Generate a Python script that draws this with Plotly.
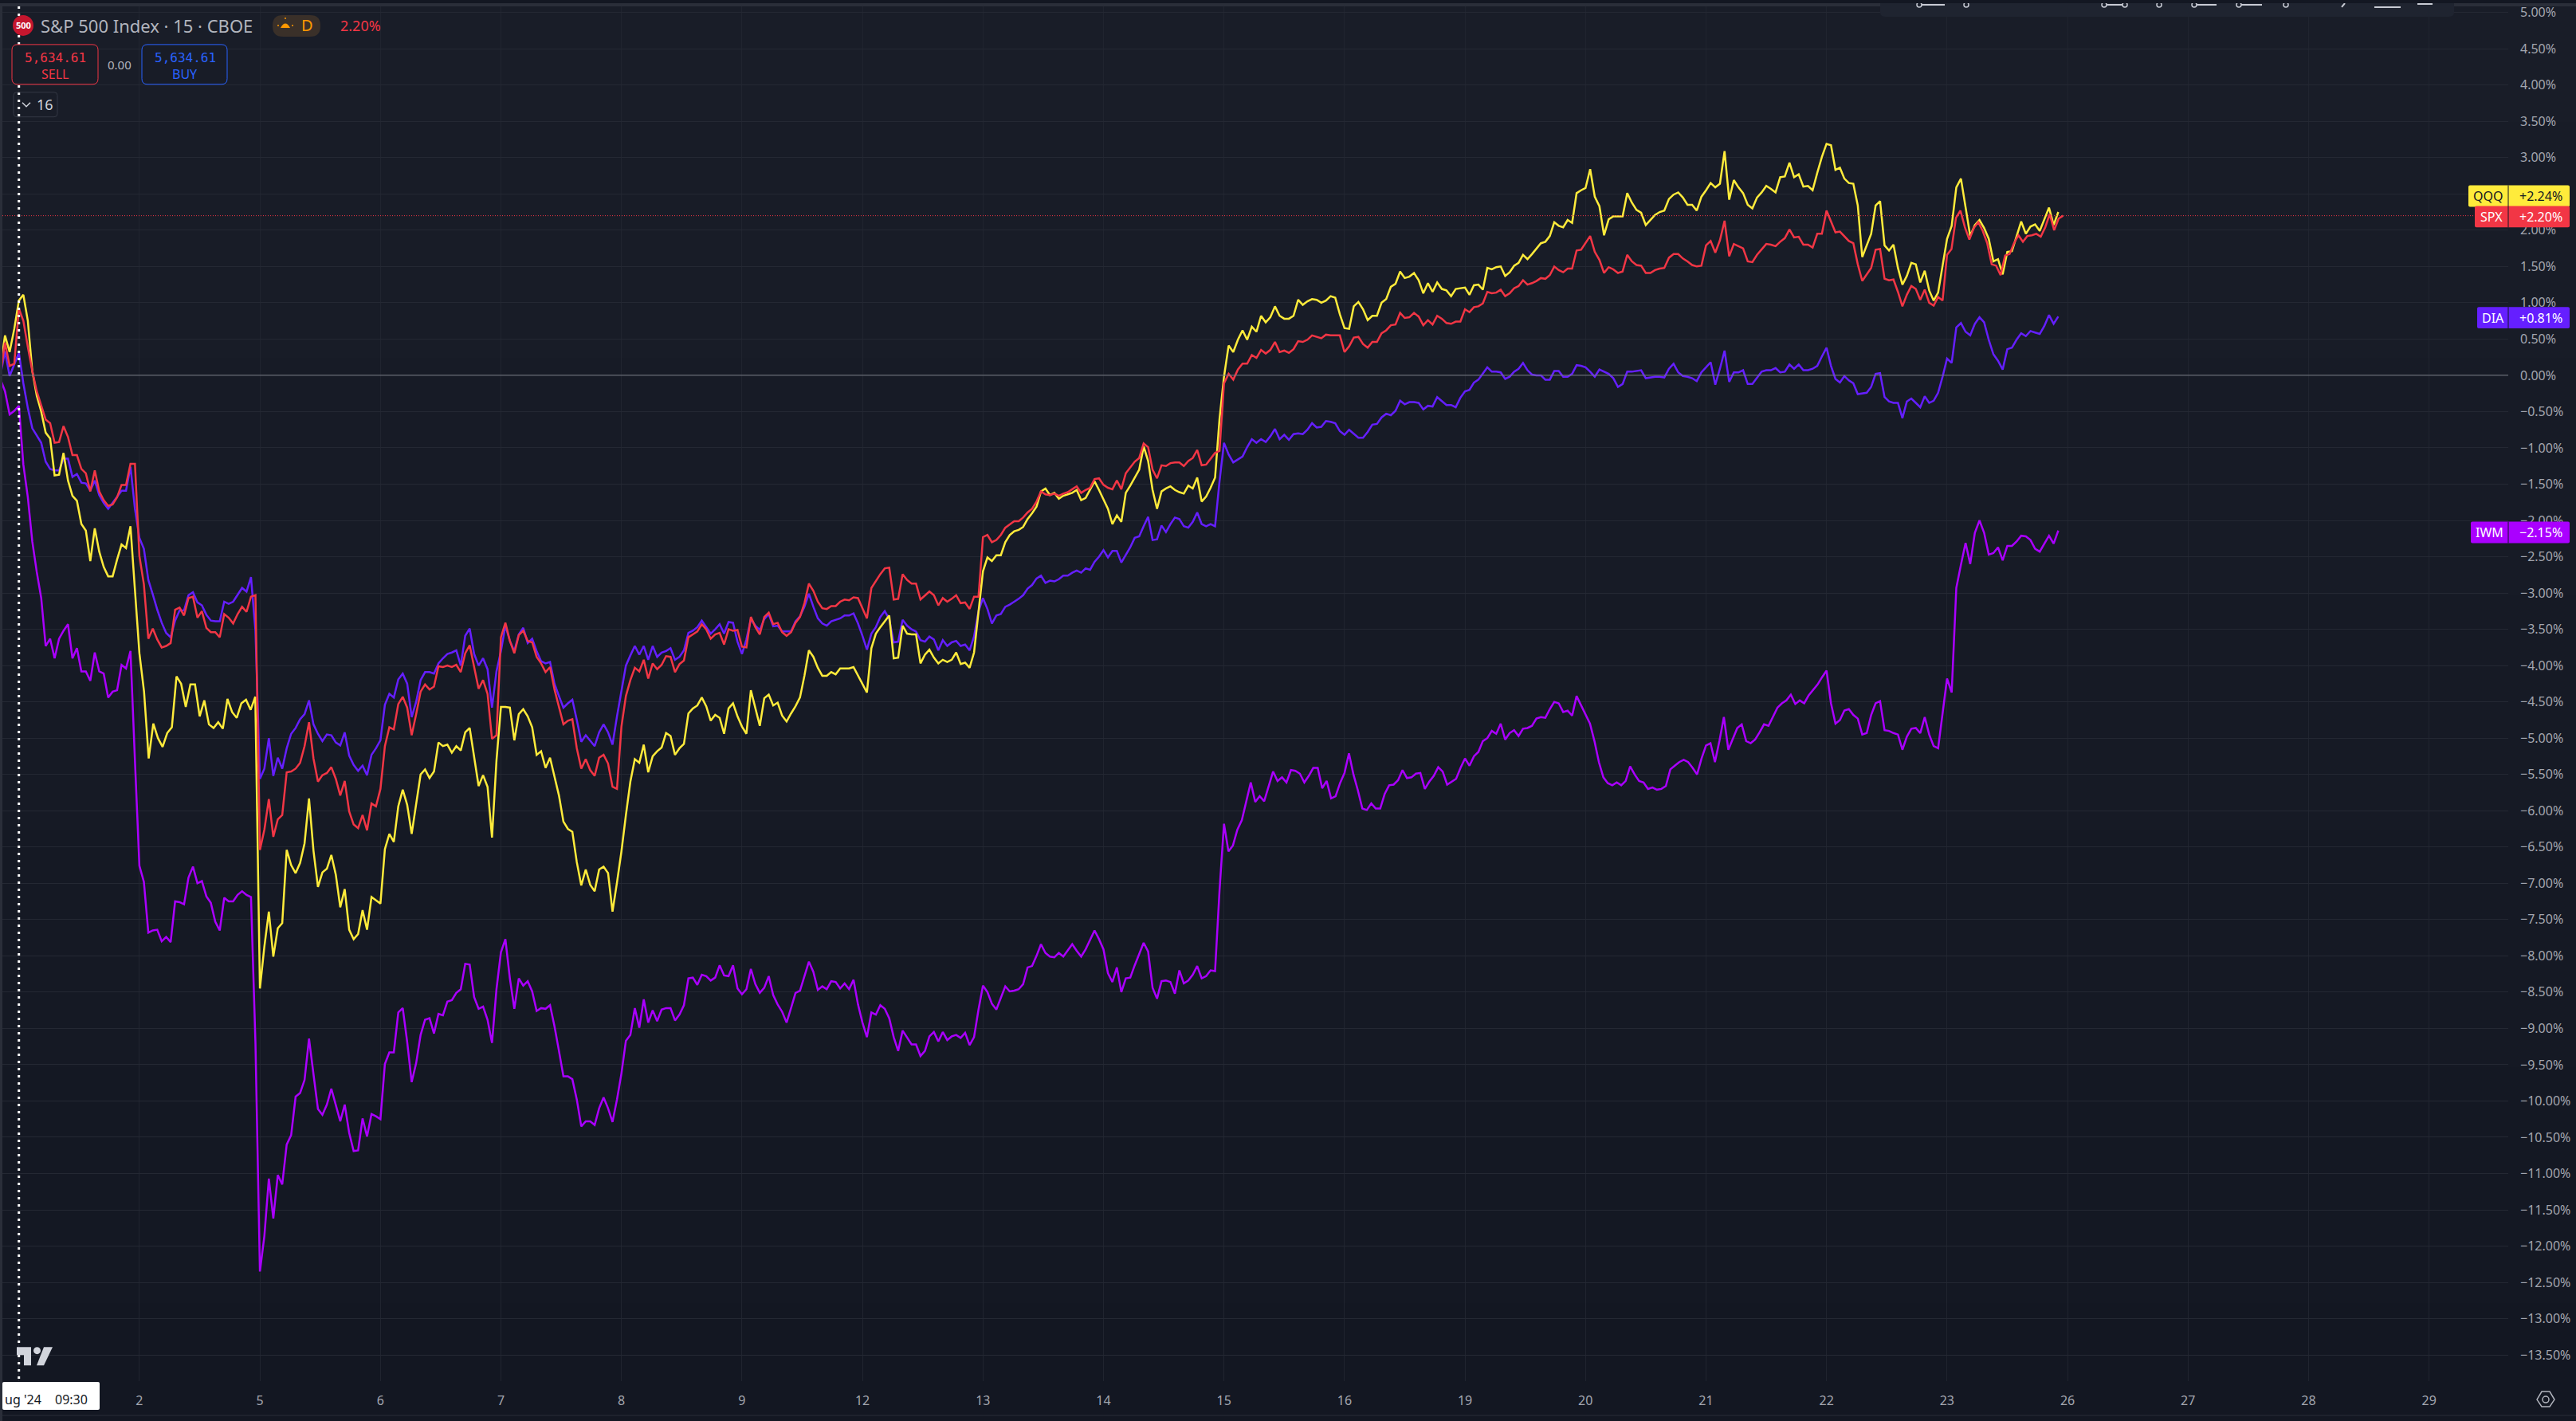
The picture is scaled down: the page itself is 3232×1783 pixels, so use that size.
import plotly.graph_objects as go

FONT = "Noto Sans"
BG_TOP = "#191D28"
BG_BOTTOM = "#131722"
GRID_H = "#242833"
GRID_V = "#20242F"
TEXT = "#A3A6AF"

RED = "#F23645"
YELLOW = "#FFEB3B"
BLUE = "#651FFF"
VIOLET = "#AA00FF"

DAY_LABELS = ["", "2", "5", "6", "7", "8", "9", "12", "13", "14", "15", "16", "19", "20", "21", "22", "23", "26", "27", "28", "29"]
PCT_TICKS = [5 - i * 0.5 for i in range(38)]

# percent change per 15 minute bar, one inner list per session
SPX_PRE = [0.0, 0.45, 0.13, 0.16]
SPX_DAYS = [
    [0.92, 0.75, 0.39, 0.06, -0.22, -0.42, -0.61, -0.66, -0.93, -0.92, -0.70, -0.85, -1.10, -1.10, -1.29, -1.35, -1.60, -1.31, -1.60, -1.72, -1.80, -1.78, -1.68, -1.51, -1.51, -1.22, -1.22],
    [-2.49, -2.88, -3.63, -3.49, -3.64, -3.75, -3.73, -3.69, -3.23, -3.20, -3.31, -3.07, -3.05, -3.34, -3.25, -3.48, -3.54, -3.54, -3.61, -3.29, -3.34, -3.42, -3.29, -3.19, -3.26, -3.05, -3.03],
    [-6.54, -6.26, -5.84, -6.36, -6.12, -6.06, -5.47, -5.46, -5.42, -5.34, -5.11, -4.78, -5.28, -5.60, -5.51, -5.48, -5.40, -5.56, -5.79, -5.59, -6.01, -6.19, -6.24, -6.06, -6.27, -5.90, -5.94],
    [-5.70, -5.11, -4.85, -4.88, -4.53, -4.43, -4.58, -4.96, -4.67, -4.36, -4.26, -4.33, -4.29, -4.01, -4.02, -4.00, -4.02, -3.99, -4.09, -3.83, -3.72, -4.02, -4.32, -4.20, -4.39, -5.01, -4.96],
    [-3.61, -3.41, -3.66, -3.83, -3.58, -3.52, -3.66, -3.68, -3.88, -3.97, -4.09, -4.02, -4.33, -4.58, -4.81, -4.76, -4.74, -5.14, -5.42, -5.29, -5.44, -5.52, -5.27, -5.23, -5.35, -5.67, -5.70],
    [-4.84, -4.42, -4.20, -4.03, -4.08, -3.92, -4.18, -3.97, -4.05, -3.99, -3.87, -3.88, -4.09, -3.98, -3.93, -3.61, -3.57, -3.53, -3.43, -3.50, -3.63, -3.57, -3.55, -3.71, -3.50, -3.52, -3.51],
    [-3.74, -3.75, -3.33, -3.47, -3.57, -3.33, -3.27, -3.43, -3.41, -3.54, -3.59, -3.54, -3.41, -3.33, -3.14, -2.87, -2.97, -3.12, -3.21, -3.22, -3.18, -3.18, -3.12, -3.09, -3.10, -3.06, -3.07],
    [-3.21, -3.35, -2.93, -2.83, -2.74, -2.66, -2.65, -3.09, -3.08, -2.74, -2.82, -2.87, -2.87, -3.09, -3.04, -2.98, -3.03, -3.17, -3.07, -3.12, -3.08, -3.03, -3.14, -3.13, -3.22, -3.05, -3.05],
    [-2.23, -2.20, -2.30, -2.27, -2.20, -2.10, -2.05, -2.01, -2.01, -1.96, -1.89, -1.84, -1.74, -1.60, -1.64, -1.65, -1.63, -1.66, -1.63, -1.61, -1.57, -1.53, -1.62, -1.58, -1.55, -1.43, -1.42],
    [-1.51, -1.55, -1.57, -1.45, -1.57, -1.35, -1.27, -1.19, -1.14, -0.94, -0.99, -1.30, -1.42, -1.24, -1.25, -1.21, -1.20, -1.20, -1.25, -1.18, -1.14, -1.03, -1.24, -1.23, -1.15, -1.07, -1.04],
    [-0.11, 0.02, -0.06, 0.08, 0.16, 0.16, 0.28, 0.24, 0.35, 0.30, 0.35, 0.46, 0.32, 0.34, 0.31, 0.36, 0.47, 0.46, 0.49, 0.55, 0.53, 0.51, 0.56, 0.55, 0.55, 0.55],
    [0.32, 0.40, 0.52, 0.53, 0.43, 0.38, 0.46, 0.46, 0.58, 0.62, 0.69, 0.70, 0.86, 0.79, 0.80, 0.86, 0.81, 0.69, 0.76, 0.70, 0.82, 0.78, 0.72, 0.71, 0.74, 0.74],
    [0.91, 0.87, 0.94, 0.95, 0.99, 1.15, 1.13, 1.14, 1.18, 1.09, 1.13, 1.20, 1.23, 1.31, 1.25, 1.27, 1.30, 1.34, 1.33, 1.38, 1.50, 1.45, 1.42, 1.47, 1.47, 1.72, 1.73],
    [1.82, 1.92, 1.70, 1.59, 1.41, 1.49, 1.46, 1.41, 1.43, 1.66, 1.57, 1.52, 1.51, 1.41, 1.41, 1.45, 1.47, 1.48, 1.62, 1.67, 1.67, 1.61, 1.57, 1.52, 1.50, 1.51],
    [1.79, 1.85, 1.69, 1.86, 2.13, 1.64, 1.81, 1.78, 1.75, 1.57, 1.56, 1.66, 1.74, 1.81, 1.80, 1.78, 1.84, 1.89, 2.01, 1.90, 1.91, 1.80, 1.80, 1.76, 1.95, 1.95],
    [2.27, 2.12, 1.97, 1.98, 1.92, 1.85, 1.82, 1.53, 1.30, 1.39, 1.48, 1.73, 1.74, 1.33, 1.31, 1.32, 1.15, 0.95, 1.11, 1.23, 1.19, 1.04, 1.18, 1.00, 0.96, 1.08, 1.03],
    [1.66, 1.74, 2.17, 2.27, 2.04, 1.87, 2.03, 2.11, 1.99, 1.82, 1.53, 1.51, 1.38, 1.65, 1.67, 1.82, 1.93, 1.84, 1.92, 1.93, 1.95, 1.91, 2.04, 2.22, 2.00, 2.16, 2.20],
]

QQQ_PRE = [0.10, 0.55, 0.32, 0.64]
QQQ_DAYS = [
    [1.03, 1.11, 0.75, 0.06, -0.28, -0.50, -0.79, -0.87, -1.38, -1.37, -1.07, -1.45, -1.66, -1.73, -2.05, -2.14, -2.56, -2.11, -2.43, -2.64, -2.77, -2.77, -2.54, -2.33, -2.38, -2.08, -2.96],
    [-3.83, -4.36, -5.28, -4.80, -5.00, -5.12, -4.93, -4.85, -4.15, -4.25, -4.57, -4.26, -4.26, -4.70, -4.48, -4.81, -4.86, -4.78, -4.87, -4.46, -4.64, -4.72, -4.52, -4.47, -4.61, -4.43],
    [-8.45, -7.87, -7.39, -8.01, -7.62, -7.55, -6.54, -6.75, -6.86, -6.72, -6.45, -5.83, -6.55, -7.05, -6.85, -6.80, -6.61, -6.88, -7.33, -7.08, -7.64, -7.77, -7.70, -7.37, -7.64, -7.19, -7.24],
    [-7.28, -6.53, -6.32, -6.43, -5.94, -5.71, -5.92, -6.32, -5.92, -5.50, -5.43, -5.55, -5.46, -5.06, -5.11, -5.09, -5.20, -5.11, -5.17, -4.92, -4.86, -5.28, -5.66, -5.51, -5.67, -6.37, -5.31],
    [-4.57, -4.57, -4.58, -5.03, -4.67, -4.60, -4.70, -4.85, -5.23, -5.18, -5.41, -5.27, -5.53, -5.79, -6.15, -6.25, -6.29, -6.71, -7.03, -6.81, -7.02, -7.11, -6.81, -6.77, -6.86, -7.39, -6.99],
    [-6.56, -6.06, -5.60, -5.29, -5.34, -5.09, -5.47, -5.25, -5.18, -5.13, -4.93, -4.97, -5.23, -5.14, -5.08, -4.66, -4.59, -4.55, -4.44, -4.56, -4.76, -4.68, -4.72, -4.94, -4.59, -4.52, -4.70],
    [-4.84, -4.94, -4.34, -4.59, -4.83, -4.45, -4.40, -4.55, -4.51, -4.69, -4.77, -4.66, -4.56, -4.44, -4.14, -3.79, -3.88, -4.03, -4.14, -4.14, -4.09, -4.12, -4.04, -4.04, -4.04, -4.02, -4.14],
    [-4.26, -4.37, -3.76, -3.56, -3.47, -3.39, -3.31, -3.90, -3.89, -3.45, -3.56, -3.57, -3.57, -3.97, -3.85, -3.78, -3.89, -3.97, -3.92, -3.95, -3.92, -3.82, -3.98, -3.96, -4.03, -3.82, -3.25],
    [-2.70, -2.51, -2.56, -2.48, -2.48, -2.30, -2.20, -2.15, -2.13, -2.09, -1.98, -1.90, -1.81, -1.60, -1.56, -1.65, -1.62, -1.70, -1.66, -1.64, -1.62, -1.58, -1.72, -1.69, -1.58, -1.46, -1.58],
    [-1.71, -1.84, -2.05, -1.93, -2.02, -1.62, -1.52, -1.41, -1.30, -0.98, -1.18, -1.58, -1.84, -1.60, -1.56, -1.53, -1.58, -1.61, -1.63, -1.52, -1.56, -1.41, -1.74, -1.67, -1.55, -1.41, -0.60],
    [-0.02, 0.41, 0.32, 0.49, 0.62, 0.49, 0.67, 0.60, 0.82, 0.73, 0.80, 0.95, 0.82, 0.78, 0.78, 0.82, 1.04, 0.97, 1.02, 1.05, 1.04, 1.00, 1.03, 1.09, 1.07, 0.84],
    [0.65, 0.64, 0.95, 1.01, 0.91, 0.76, 0.82, 0.82, 1.00, 1.05, 1.22, 1.26, 1.43, 1.34, 1.36, 1.41, 1.31, 1.13, 1.27, 1.15, 1.28, 1.19, 1.17, 1.09, 1.19, 1.20],
    [1.21, 1.11, 1.24, 1.25, 1.18, 1.48, 1.46, 1.49, 1.50, 1.37, 1.42, 1.51, 1.55, 1.66, 1.60, 1.67, 1.75, 1.82, 1.84, 1.92, 2.11, 2.06, 2.04, 2.14, 2.10, 2.51, 2.55],
    [2.58, 2.84, 2.46, 2.33, 1.93, 2.15, 2.19, 2.19, 2.19, 2.51, 2.38, 2.28, 2.24, 2.07, 2.14, 2.21, 2.25, 2.27, 2.43, 2.49, 2.52, 2.45, 2.35, 2.35, 2.27, 2.46],
    [2.55, 2.65, 2.59, 2.64, 3.09, 2.42, 2.69, 2.59, 2.51, 2.35, 2.30, 2.45, 2.52, 2.61, 2.57, 2.52, 2.73, 2.74, 2.93, 2.73, 2.77, 2.60, 2.61, 2.55, 2.79, 3.01],
    [3.19, 3.17, 2.83, 2.86, 2.71, 2.65, 2.64, 2.34, 1.63, 1.79, 1.95, 2.34, 2.40, 1.79, 1.72, 1.80, 1.48, 1.25, 1.37, 1.55, 1.53, 1.28, 1.44, 1.17, 1.03, 1.14, 1.53],
    [1.88, 2.06, 2.59, 2.71, 2.32, 1.92, 2.07, 2.14, 2.03, 1.88, 1.57, 1.60, 1.39, 1.70, 1.71, 1.92, 2.12, 1.95, 2.05, 2.08, 1.99, 2.15, 2.31, 2.07, 2.25],
]

DIA_PRE = [0.0, 0.33, -0.01, 0.14]
DIA_DAYS = [
    [0.31, -0.11, -0.45, -0.73, -0.83, -0.93, -1.19, -1.29, -1.31, -1.31, -1.15, -1.15, -1.40, -1.36, -1.48, -1.49, -1.59, -1.45, -1.65, -1.76, -1.84, -1.76, -1.67, -1.59, -1.59, -1.26, -1.84],
    [-2.24, -2.39, -2.82, -3.02, -3.23, -3.41, -3.55, -3.61, -3.38, -3.24, -3.24, -3.03, -2.99, -3.13, -3.17, -3.30, -3.38, -3.39, -3.39, -3.12, -3.15, -3.12, -3.02, -2.93, -2.98, -2.78, -3.52],
    [-5.56, -5.42, -5.00, -5.52, -5.27, -5.42, -5.14, -4.94, -4.86, -4.74, -4.67, -4.48, -4.81, -4.94, -5.04, -4.95, -4.96, -5.06, -5.10, -4.92, -5.24, -5.37, -5.45, -5.38, -5.51, -5.23, -5.14],
    [-5.03, -4.54, -4.39, -4.44, -4.19, -4.11, -4.25, -4.71, -4.50, -4.20, -4.09, -4.09, -4.11, -3.97, -3.90, -3.84, -3.82, -3.79, -4.00, -3.59, -3.49, -3.84, -4.00, -3.90, -4.05, -4.58, -4.08],
    [-3.80, -3.45, -3.66, -3.80, -3.57, -3.48, -3.69, -3.63, -3.80, -3.94, -3.97, -3.95, -4.25, -4.42, -4.58, -4.52, -4.47, -4.75, -5.05, -4.96, -5.03, -5.11, -4.92, -4.81, -4.92, -5.09, -4.70],
    [-4.33, -4.00, -3.86, -3.73, -3.85, -3.73, -3.92, -3.73, -3.88, -3.82, -3.80, -3.76, -3.92, -3.88, -3.79, -3.55, -3.52, -3.47, -3.38, -3.47, -3.56, -3.50, -3.43, -3.56, -3.40, -3.41, -3.67],
    [-3.84, -3.64, -3.36, -3.45, -3.51, -3.36, -3.29, -3.46, -3.45, -3.53, -3.53, -3.53, -3.39, -3.32, -3.19, -3.01, -3.19, -3.35, -3.42, -3.45, -3.39, -3.37, -3.35, -3.31, -3.31, -3.28, -3.42],
    [-3.59, -3.78, -3.56, -3.47, -3.33, -3.25, -3.36, -3.68, -3.67, -3.37, -3.45, -3.50, -3.53, -3.65, -3.67, -3.60, -3.64, -3.79, -3.65, -3.73, -3.68, -3.66, -3.73, -3.71, -3.79, -3.60, -3.25],
    [-3.07, -3.22, -3.42, -3.31, -3.29, -3.19, -3.16, -3.12, -3.08, -3.03, -2.94, -2.89, -2.80, -2.76, -2.86, -2.83, -2.84, -2.81, -2.76, -2.76, -2.72, -2.69, -2.72, -2.66, -2.68, -2.57, -2.50],
    [-2.41, -2.51, -2.42, -2.42, -2.58, -2.47, -2.37, -2.24, -2.22, -2.08, -1.95, -2.27, -2.26, -2.07, -2.16, -2.05, -1.96, -1.98, -2.08, -2.10, -2.02, -1.89, -2.05, -2.08, -2.05, -2.08, -1.46],
    [-0.93, -1.09, -1.20, -1.16, -1.12, -0.99, -0.88, -0.93, -0.88, -0.92, -0.84, -0.74, -0.88, -0.82, -0.89, -0.81, -0.80, -0.81, -0.75, -0.66, -0.72, -0.71, -0.63, -0.64, -0.66, -0.77],
    [-0.82, -0.75, -0.80, -0.86, -0.86, -0.78, -0.68, -0.67, -0.58, -0.53, -0.55, -0.49, -0.35, -0.40, -0.37, -0.37, -0.38, -0.47, -0.42, -0.43, -0.30, -0.35, -0.41, -0.41, -0.44, -0.31],
    [-0.22, -0.20, -0.10, -0.06, 0.02, 0.11, 0.05, 0.05, 0.04, -0.05, -0.02, 0.05, 0.09, 0.17, 0.07, 0.01, 0.00, 0.00, -0.06, -0.06, 0.06, 0.06, -0.02, -0.02, 0.02, 0.14, 0.13],
    [0.11, 0.05, -0.02, 0.08, 0.05, 0.02, -0.04, -0.16, -0.12, 0.05, 0.05, 0.06, 0.07, -0.04, -0.03, -0.02, -0.02, -0.03, 0.09, 0.16, 0.04, -0.01, -0.02, -0.04, -0.08, 0.04],
    [0.11, 0.18, -0.13, 0.09, 0.34, -0.09, 0.04, 0.04, 0.07, -0.12, -0.12, -0.04, 0.05, 0.07, 0.07, 0.10, 0.04, 0.05, 0.15, 0.09, 0.15, 0.07, 0.07, 0.09, 0.13, 0.26],
    [0.38, 0.13, -0.05, -0.10, -0.01, -0.07, -0.11, -0.26, -0.25, -0.24, -0.16, 0.02, 0.03, -0.30, -0.36, -0.38, -0.38, -0.59, -0.36, -0.32, -0.38, -0.44, -0.29, -0.38, -0.35, -0.24, -0.02],
    [0.23, 0.17, 0.66, 0.72, 0.60, 0.55, 0.71, 0.80, 0.73, 0.49, 0.29, 0.20, 0.08, 0.36, 0.38, 0.49, 0.58, 0.54, 0.61, 0.59, 0.57, 0.68, 0.83, 0.71, 0.81],
]

IWM_PRE = [-0.05, -0.22, -0.54, -0.49]
IWM_DAYS = [
    [-0.42, -1.23, -1.68, -2.29, -2.71, -3.07, -3.73, -3.63, -3.90, -3.63, -3.52, -3.43, -3.90, -3.76, -4.08, -4.08, -4.21, -3.82, -4.08, -4.11, -4.44, -4.36, -4.34, -3.99, -4.04, -3.80, -5.31],
    [-6.76, -6.98, -7.68, -7.65, -7.64, -7.80, -7.74, -7.81, -7.25, -7.26, -7.29, -6.92, -6.77, -7.00, -6.97, -7.18, -7.27, -7.53, -7.65, -7.20, -7.25, -7.25, -7.16, -7.11, -7.16, -7.19, -9.20],
    [-12.35, -11.86, -11.07, -11.62, -11.02, -11.15, -10.60, -10.47, -9.94, -9.89, -9.71, -9.14, -9.63, -10.11, -10.19, -10.05, -9.83, -10.05, -10.28, -10.05, -10.44, -10.69, -10.68, -10.24, -10.49, -10.18, -10.21],
    [-10.25, -9.49, -9.33, -9.33, -8.78, -8.72, -9.19, -9.74, -9.48, -9.09, -8.88, -8.86, -9.07, -8.80, -8.82, -8.63, -8.61, -8.51, -8.46, -8.11, -8.12, -8.57, -8.73, -8.70, -8.88, -9.20, -8.46],
    [-7.95, -7.77, -8.31, -8.73, -8.31, -8.41, -8.35, -8.49, -8.76, -8.72, -8.73, -8.68, -8.97, -9.31, -9.66, -9.66, -9.70, -9.98, -10.35, -10.28, -10.28, -10.33, -10.10, -9.95, -10.10, -10.29, -9.98],
    [-9.62, -9.17, -9.09, -8.72, -8.99, -8.60, -8.92, -8.75, -8.90, -8.74, -8.72, -8.72, -8.89, -8.81, -8.68, -8.31, -8.30, -8.40, -8.26, -8.28, -8.34, -8.30, -8.13, -8.27, -8.28, -8.13, -8.45],
    [-8.53, -8.46, -8.18, -8.39, -8.51, -8.44, -8.28, -8.54, -8.67, -8.77, -8.92, -8.72, -8.51, -8.48, -8.28, -8.08, -8.22, -8.47, -8.42, -8.46, -8.35, -8.36, -8.45, -8.38, -8.46, -8.33, -8.67],
    [-8.92, -9.12, -8.78, -8.81, -8.68, -8.73, -8.86, -9.12, -9.31, -9.03, -9.12, -9.22, -9.22, -9.38, -9.31, -9.11, -9.05, -9.18, -9.05, -9.16, -9.11, -9.09, -9.13, -9.06, -9.23, -9.12, -8.74],
    [-8.41, -8.50, -8.66, -8.74, -8.59, -8.42, -8.49, -8.48, -8.46, -8.39, -8.16, -8.14, -8.00, -7.84, -7.96, -8.01, -8.02, -7.96, -8.01, -7.92, -7.84, -7.93, -8.01, -7.91, -7.78, -7.65, -7.77],
    [-7.91, -8.24, -8.36, -8.16, -8.50, -8.31, -8.30, -8.13, -7.97, -7.82, -7.94, -8.44, -8.59, -8.35, -8.34, -8.36, -8.52, -8.20, -8.38, -8.34, -8.26, -8.14, -8.31, -8.28, -8.20, -8.21, -7.10],
    [-6.18, -6.56, -6.48, -6.26, -6.13, -5.87, -5.61, -5.88, -5.80, -5.87, -5.67, -5.46, -5.59, -5.54, -5.61, -5.44, -5.45, -5.49, -5.61, -5.52, -5.41, -5.41, -5.69, -5.59, -5.83, -5.80, -5.62],
    [-5.48, -5.21, -5.50, -5.72, -5.97, -5.99, -5.90, -5.97, -5.97, -5.77, -5.65, -5.64, -5.58, -5.44, -5.55, -5.54, -5.49, -5.48, -5.70, -5.60, -5.52, -5.40, -5.46, -5.64, -5.60, -5.56, -5.41],
    [-5.28, -5.38, -5.25, -5.19, -5.04, -5.00, -4.90, -4.94, -4.80, -5.02, -4.93, -4.89, -4.97, -4.87, -4.86, -4.83, -4.73, -4.71, -4.72, -4.60, -4.50, -4.52, -4.64, -4.62, -4.69, -4.42, -4.55],
    [-4.68, -4.80, -5.04, -5.33, -5.54, -5.62, -5.65, -5.61, -5.65, -5.59, -5.39, -5.50, -5.59, -5.61, -5.70, -5.68, -5.71, -5.70, -5.66, -5.43, -5.38, -5.33, -5.30, -5.33, -5.41, -5.50, -5.28],
    [-5.10, -5.07, -5.33, -5.04, -4.71, -5.16, -5.02, -4.86, -4.81, -5.04, -5.07, -5.02, -4.92, -4.81, -4.83, -4.70, -4.58, -4.52, -4.48, -4.40, -4.53, -4.48, -4.52, -4.41, -4.34, -4.26, -4.16],
    [-4.07, -4.52, -4.80, -4.75, -4.62, -4.60, -4.68, -4.73, -4.95, -4.93, -4.68, -4.52, -4.49, -4.89, -4.90, -4.93, -4.95, -5.16, -4.98, -4.87, -4.86, -4.93, -4.71, -4.95, -5.11, -5.14, -4.65],
    [-4.18, -4.37, -2.93, -2.61, -2.31, -2.60, -2.17, -2.00, -2.17, -2.47, -2.45, -2.37, -2.55, -2.35, -2.35, -2.29, -2.21, -2.22, -2.27, -2.39, -2.43, -2.32, -2.21, -2.32, -2.14],
]


def flatten(pre, days):
    # sessions hold 26 bars, x is in sessions so ticks fall on the 09:30 bar
    xs = [(i - len(pre)) / 26 for i in range(len(pre))]
    ys = list(pre)
    for day, vals in enumerate(days):
        step = max(len(vals), 26)
        xs += [day + i / step for i in range(len(vals))]
        ys += vals
    return xs, ys


def pct_text(v):
    return f"{v:.2f}%".replace("-", "\u2212")


fig = go.Figure()

# gradient page background, the first axes are plain page pixels
fig.add_heatmap(
    x=[0, 3232], y=[0, 1783], z=[[0, 0], [1, 1]],
    colorscale=[[0, BG_TOP], [1, BG_BOTTOM]],
    zsmooth="best", showscale=False, hoverinfo="skip", xaxis="x", yaxis="y",
)

for name, pre, days, color in [
    ("IWM", IWM_PRE, IWM_DAYS, VIOLET),
    ("DIA", DIA_PRE, DIA_DAYS, BLUE),
    ("QQQ", QQQ_PRE, QQQ_DAYS, YELLOW),
    ("SPX", SPX_PRE, SPX_DAYS, RED),
]:
    xs, ys = flatten(pre, days)
    fig.add_scatter(x=xs, y=ys, name=name, mode="lines", line=dict(color=color, width=2.5), xaxis="x2", yaxis="y2")


def note(x, y, text, size=16, color=TEXT, anchor="center", family=FONT):
    fig.add_annotation(
        x=x, y=y, xref="x", yref="y", text=text, showarrow=False, xanchor=anchor, yanchor="middle",
        font=dict(family=family, size=size, color=color), borderpad=0,
    )


def rect(x0, y0, x1, y1, fill=None, line=None, width=1):
    fig.add_shape(
        type="rect", x0=x0, y0=y0, x1=x1, y1=y1, xref="x", yref="y", layer="above",
        fillcolor=fill or "rgba(0,0,0,0)", line=dict(color=line or "rgba(0,0,0,0)", width=width if line else 0),
    )


def rrect(x0, y0, x1, y1, r, fill=None, line=None, width=1):
    path = (
        f"M{x0+r},{y0} L{x1-r},{y0} Q{x1},{y0} {x1},{y0+r} L{x1},{y1-r} Q{x1},{y1} {x1-r},{y1} "
        f"L{x0+r},{y1} Q{x0},{y1} {x0},{y1-r} L{x0},{y0+r} Q{x0},{y0} {x0+r},{y0} Z"
    )
    fig.add_shape(
        type="path", path=path, xref="x", yref="y", layer="above",
        fillcolor=fill or "rgba(0,0,0,0)", line=dict(color=line or "rgba(0,0,0,0)", width=width if line else 0),
    )


def seg(x0, y0, x1, y1, color, width=1, dash="solid"):
    fig.add_shape(
        type="line", x0=x0, y0=y0, x1=x1, y1=y1, xref="x", yref="y", layer="above",
        line=dict(color=color, width=width, dash=dash),
    )


def path(d, fill=None, line=None, width=1):
    fig.add_shape(
        type="path", path=d, xref="x", yref="y", layer="above",
        fillcolor=fill or "rgba(0,0,0,0)", line=dict(color=line or "rgba(0,0,0,0)", width=width if line else 0),
    )


# frame strips
rect(0, 0, 3232, 4, fill="#2A2E39")
rect(0, 0, 3, 1783, fill="#2A2E39")
seg(3, 1776, 3232, 1776, "#2A2E39", 1)

# zero line, last price line, session marker
fig.add_shape(type="line", xref="x2 domain", yref="y2", x0=0, x1=1, y0=0, y1=0, layer="above", line=dict(color="#787B86", width=1))
seg(3, 468 - 2.20 * 91.26, 3105, 468 - 2.20 * 91.26, RED, 1, "1px,2px")
seg(23.7, 4, 23.7, 1733, "#FFFFFF", 3, "3px,6px")

# top toolbar cut by the window edge
rrect(2359, -10, 3079, 17, 6, fill="#1F2430")
for x0, x1, y in [(2405, 2440, 2), (2637, 2669, 2), (2750, 2781, 2), (2806, 2838, 2), (2979, 3012, 5), (3033, 3052, 1)]:
    seg(x0, y, x1, y, "#C8CBD4", 2)
for x in [2408, 2467, 2640, 2666, 2709, 2753, 2809, 2868]:
    fig.add_shape(type="circle", x0=x - 3, x1=x + 3, y0=-1, y1=5, xref="x", yref="y", layer="above", fillcolor="#1F2430", line=dict(color="#C8CBD4", width=1.5))
seg(2938, 5, 2942, 0, "#C8CBD4", 2)

# header
fig.add_shape(type="circle", x0=16, x1=42, y0=15, y1=41, xref="x", yref="y", layer="above", fillcolor="#C5162E", line=dict(width=0))
note(29, 28, "<b>500</b>", 11, "#FFFFFF")
note(50, 28, "S&amp;P 500 Index · 15 · CBOE", 22, "#B2B5BE", "left")
rrect(342, 15, 402, 42, 13, fill="#3A3029")
path("M352,31 Q358,20 364,31 Z", fill="#FF9800")
seg(348, 28, 350, 28, "#FF9800", 1.5)
seg(366, 28, 368, 28, "#FF9800", 1.5)
seg(358, 18, 358, 20, "#FF9800", 1.5)
note(385, 28, "D", 20, "#FF9800")
note(426, 28, "2.20%", 18, RED, "left")

rrect(15, 52, 123, 102, 7, fill="#181C27", line=RED, width=1)
note(69, 69, "5,634.61", 16, RED, family="DejaVu Sans Mono")
note(69, 89, "SELL", 16, RED)
note(150, 77, "0.00", 15, "#B2B5BE")
rrect(178, 52, 285, 102, 7, fill="#181C27", line="#2962FF", width=1)
note(232, 69, "5,634.61", 16, "#2962FF", family="DejaVu Sans Mono")
note(232, 89, "BUY", 16, "#2962FF")
rrect(17, 112, 72, 143, 4, line="#343844", width=1)
path("M28,125 L33,130 L38,125", line="#D1D4DC", width=1.5)
note(56, 127, "16", 18, "#D1D4DC")

# date box under the first bar
rrect(3, 1734, 125, 1769, 2, fill="#FFFFFF")
note(5, 1756, "ug '24", 16, "#131722", "left")
note(68, 1756, "09:30", 16, "#131722", "left")

# TradingView mark
path("M21,1690 L39,1690 L39,1713 L30,1713 L30,1700 L21,1700 Z", fill="#D1D4DC")
fig.add_shape(type="circle", x0=42, x1=51, y0=1690, y1=1699, xref="x", yref="y", layer="above", fillcolor="#D1D4DC", line=dict(width=0))
path("M55,1690 L66,1690 L55,1713 L46,1713 Z", fill="#D1D4DC")

# settings gear
path("M3183,1756 L3189,1746 L3199,1746 L3205,1756 L3199,1765 L3189,1765 Z", line="#B2B5BE", width=1.5)
fig.add_shape(type="circle", x0=3190, x1=3198, y0=1752, y1=1760, xref="x", yref="y", layer="above", line=dict(color="#B2B5BE", width=1.5))

# price scale labels, QQQ first so SPX sits on top of it
for label, value, left, top, fill, ink in [
    ("QQQ", "+2.24%", 3097, 229, YELLOW, "#131722"),
    ("SPX", "+2.20%", 3105, 255, RED, "#FFFFFF"),
    ("DIA", "+0.81%", 3108, 382, BLUE, "#FFFFFF"),
    ("IWM", "\u22122.15%", 3100, 652, VIOLET, "#FFFFFF"),
]:
    rrect(left, top, 3224, top + 27, 2, fill=fill)
    seg(3147, top, 3147, top + 27, "#131722", 1)
    note((left + 3147) / 2, top + 13.5, label, 16, ink)
    note(3216, top + 13.5, value, 16, ink, "right")

fig.update_layout(
    width=3232, height=1783, margin=dict(l=0, r=0, t=0, b=0), showlegend=False,
    paper_bgcolor=BG_BOTTOM, plot_bgcolor="rgba(0,0,0,0)",
    xaxis=dict(domain=[0, 1], range=[0, 3232], visible=False, anchor="y"),
    yaxis=dict(domain=[0, 1], range=[1783, 0], visible=False, anchor="x"),
    xaxis2=dict(
        domain=[3 / 3232, 3147 / 3232], range=[-0.137, 20.657], anchor="y2",
        tickvals=list(range(len(DAY_LABELS))), ticktext=DAY_LABELS,
        showgrid=True, gridcolor=GRID_V, gridwidth=1, zeroline=False, showline=False, ticks="",
        ticklabelstandoff=13, tickfont=dict(family=FONT, size=16, color=TEXT),
    ),
    yaxis2=dict(
        domain=[1 - 1733 / 1783, 1 - 4 / 1783], range=[-13.862, 5.084], anchor="x2", side="right",
        tickvals=PCT_TICKS, ticktext=[pct_text(v) for v in PCT_TICKS],
        showgrid=True, gridcolor=GRID_H, gridwidth=1, zeroline=False, showline=False, ticks="",
        ticklabelstandoff=14, tickfont=dict(family=FONT, size=16, color=TEXT),
    ),
)

# the default page margin would push the whole figure 8px off
fig.write_html(
    "out.html",
    config={"displayModeBar": False},
    post_script="document.body.style.margin='0';document.body.style.overflow='hidden';",
)
